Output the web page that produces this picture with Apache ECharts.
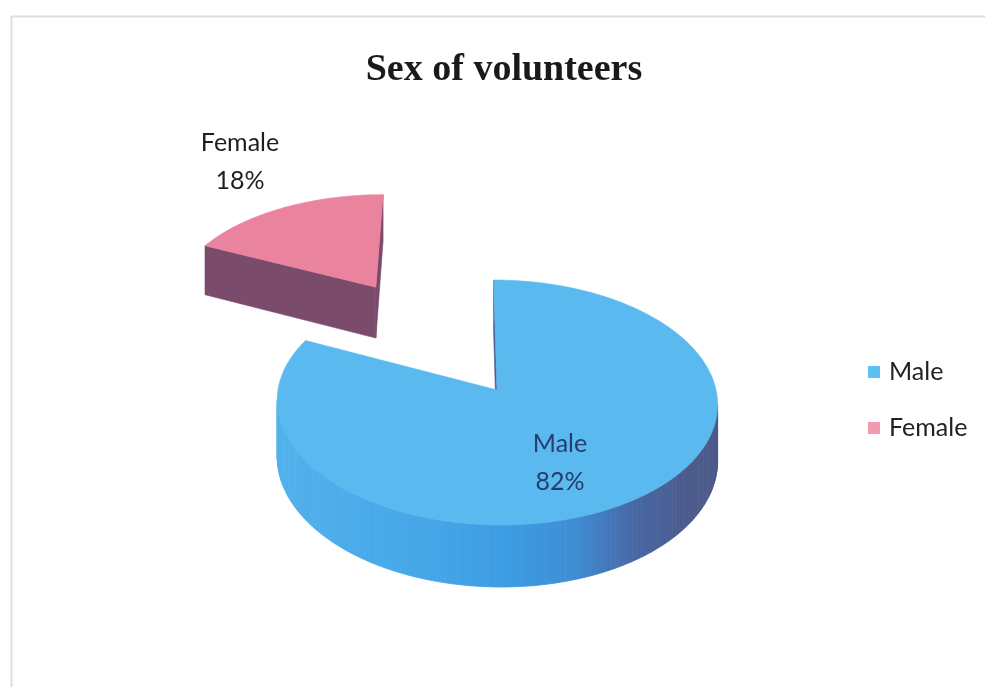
<!DOCTYPE html>
<html>
<head>
<meta charset="utf-8">
<title>Sex of volunteers</title>
<script src="https://cdn.jsdelivr.net/npm/echarts@6/dist/echarts.min.js"></script>
<style>
  html, body { margin: 0; padding: 0; background: #ffffff; }
  #chart { width: 985px; height: 687px; }
</style>
</head>
<body>
<div id="chart"></div>
<script>
// Survey breakdown (percent of volunteers)
const categories = ['Male', 'Female'];
const shares = [82, 18];

// ---- 3D pie projection -------------------------------------------------
// World: u to the right, v away from the viewer, h = 0 on the top face, 1 on the bottom.
const CX = 497, CY = 390;          // screen position of the pie centre (top face)
const VX = 460;                    // horizontal vanishing point
const RX = 219, RY = 121.2;        // projected radii
const PERSP = 0.102;               // perspective strength
const DEPTH = 55.7;                // wall thickness
const EXPLODE = { Female: 1.1 };   // pulled-out distance, in radii

const SLICE_STYLE = {
  Male:   { top: '#5ab9ee', cut: '#4a5d92', legend: '#5cc0f2', label: '#263d6e' },
  Female: { top: '#e9839e', cut: '#7a4b6b', legend: '#f29ab0', label: '#1e1e1e' }
};
// Label anchors (screen px)
const LABEL_POS = { Male: [560, 463], Female: [240, 162] };

function project(u, v, h) {
  const w = 1 + PERSP * v;
  return [VX + (CX + RX * u - VX) / w, CY + (-RY * v + DEPTH * h) / w];
}

function signedArea(pts) {
  let s = 0;
  for (let i = 0; i < pts.length; i++) {
    const a = pts[i], b = pts[(i + 1) % pts.length];
    s += a[0] * b[1] - b[0] * a[1];
  }
  return s / 2;
}

function hexToRgb(h) {
  const n = parseInt(h.slice(1), 16);
  return [(n >> 16) & 255, (n >> 8) & 255, n & 255];
}
function mix(c1, c2, t) {
  const a = hexToRgb(c1), b = hexToRgb(c2);
  return 'rgb(' + a.map((x, i) => Math.round(x + (b[i] - x) * t)).join(',') + ')';
}
// Side-wall lighting for the blue slice: bright on the left, slate on the right
const WALL_STOPS = [[-1, '#52b2ec'], [-0.3, '#45a6e8'], [0.05, '#3d9be2'],
                    [0.3, '#3f8dd4'], [0.55, '#4869a6'], [0.8, '#4c5b8d'], [1, '#4d5a8a']];
function wallColor(u, name) {
  if (name === 'Female') return SLICE_STYLE.Female.cut;
  for (let i = 0; i < WALL_STOPS.length - 1; i++) {
    const [u0, c0] = WALL_STOPS[i], [u1, c1] = WALL_STOPS[i + 1];
    if (u <= u1) return mix(c0, c1, Math.max(0, (u - u0) / (u1 - u0)));
  }
  return WALL_STOPS[WALL_STOPS.length - 1][1];
}

function makeRenderItem(idx) {
  const name = categories[idx];
  return function (params, api) {
    const value = api.value(0);
    const total = shares.reduce((a, b) => a + b, 0);
    let before = 0;
    for (let j = 0; j < idx; j++) before += shares[j];
    const a0 = before / total * Math.PI * 2;
    const a1 = (before + value) / total * Math.PI * 2;
    const mid = (a0 + a1) / 2;
    const d = EXPLODE[name] || 0;
    const ou = d * Math.sin(mid), ov = d * Math.cos(mid);
    const P = (ang, r, h) => project(ou + r * Math.sin(ang), ov + r * Math.cos(ang), h);
    const style = SLICE_STYLE[name];
    const children = [];

    // outer curved wall, in thin strips
    const steps = Math.max(4, Math.ceil((a1 - a0) / (Math.PI / 180)));
    for (let s = 0; s < steps; s++) {
      const t1 = a0 + (a1 - a0) * s / steps, t2 = a0 + (a1 - a0) * (s + 1) / steps;
      const quad = [P(t1, 1, 0), P(t2, 1, 0), P(t2, 1, 1), P(t1, 1, 1)];
      if (signedArea(quad) < 0) {
        const c = wallColor(Math.sin((t1 + t2) / 2), name);
        children.push({ type: 'polygon', shape: { points: quad },
          style: { fill: c, stroke: c, lineWidth: 0.8 } });
      }
    }
    // flat cut faces
    const c0 = P(0, 0, 0), c1 = P(0, 0, 1);
    const faces = [
      [c0, P(a0, 1, 0), P(a0, 1, 1), c1],
      [P(a1, 1, 0), c0, c1, P(a1, 1, 1)]
    ];
    faces.forEach(f => {
      if (signedArea(f) < 0) {
        children.push({ type: 'polygon', shape: { points: f },
          style: { fill: style.cut, stroke: style.cut, lineWidth: 0.6 } });
      }
    });
    // top face
    const topPts = [c0];
    for (let s = 0; s <= steps; s++) topPts.push(P(a0 + (a1 - a0) * s / steps, 1, 0));
    children.push({ type: 'polygon', shape: { points: topPts },
      style: { fill: style.top, stroke: style.top, lineWidth: 0.6 } });

    // data label
    const pct = Math.round(value / total * 100);
    const lp = LABEL_POS[name];
    children.push({ type: 'text', z2: 10, style: {
      text: name + '\n' + pct + '%', x: lp[0], y: lp[1],
      fill: style.label, fontFamily: 'Lato', fontSize: 25, lineHeight: 38,
      align: 'center', verticalAlign: 'middle' } });

    return { type: 'group', children: children };
  };
}

const chart = echarts.init(document.getElementById('chart'), null, { renderer: 'canvas' });
chart.setOption({
  backgroundColor: '#ffffff',
  animation: false,
  title: {
    text: 'Sex of volunteers',
    left: 499, top: 46, textAlign: 'center',
    textStyle: { fontFamily: 'Liberation Serif', fontWeight: 'bold', fontSize: 38, color: '#1a1a1a' }
  },
  legend: {
    orient: 'vertical',
    left: 863, top: 352,
    itemWidth: 12, itemHeight: 12, itemGap: 26,
    icon: 'rect',
    textStyle: { fontFamily: 'Lato', fontSize: 25, color: '#222222', lineHeight: 30, padding: [0, 0, 0, 4] },
    data: categories.map(n => ({ name: n, itemStyle: { color: SLICE_STYLE[n].legend } }))
  },
  graphic: [{
    type: 'rect', left: 9, top: 14, silent: true, z: -1,
    shape: { width: 1000, height: 700 },
    style: { fill: 'none', stroke: '#dedede', lineWidth: 2 }
  }],
  series: categories.map((name, i) => ({
    type: 'custom',
    name: name,
    coordinateSystem: 'none',
    z: name === 'Female' ? 1 : 2,
    itemStyle: { color: SLICE_STYLE[name].top },
    renderItem: makeRenderItem(i),
    data: [[shares[i]]]
  }))
});
</script>
</body>
</html>
